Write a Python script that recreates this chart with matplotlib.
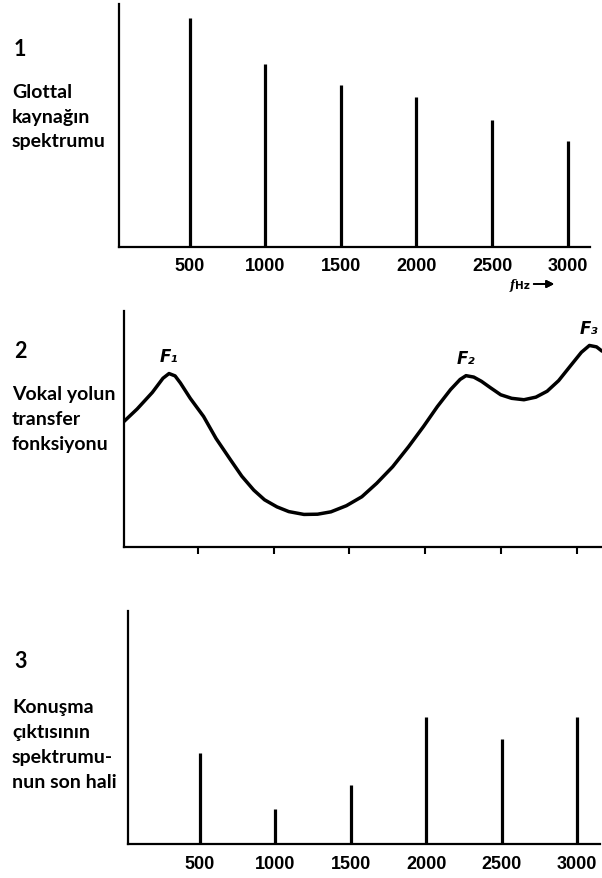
import matplotlib.pyplot as plt

W, H = 602, 879

# ---- data ----
freqs = [500, 1000, 1500, 2000, 2500, 3000]
tick_labels = ['500', '1000', '1500', '2000', '2500', '3000']

# 1: glottal source spectrum (relative amplitude, 0..1 of axis height)
source_amp = [0.943, 0.753, 0.668, 0.616, 0.524, 0.436]

# 2: vocal tract transfer function
tf_hz = [13, 100, 200, 270, 310, 350, 385, 450, 538, 620, 716, 790, 869, 940,
         1022, 1100, 1200, 1290, 1378, 1480, 1582, 1680, 1785, 1890, 1989, 2080,
         2167, 2230, 2269, 2320, 2371, 2430, 2498, 2570, 2651, 2730, 2804, 2880,
         2956, 3030, 3083, 3130, 3166]
tf_amp = [0.532, 0.585, 0.655, 0.715, 0.735, 0.725, 0.695, 0.630, 0.553, 0.460,
          0.369, 0.300, 0.241, 0.200, 0.170, 0.150, 0.138, 0.139, 0.149, 0.175,
          0.213, 0.270, 0.340, 0.425, 0.511, 0.595, 0.667, 0.710, 0.726, 0.720,
          0.702, 0.675, 0.645, 0.630, 0.624, 0.635, 0.660, 0.705, 0.766, 0.825,
          0.854, 0.848, 0.830]
formants = ['F₁', 'F₂', 'F₃']
formant_hz = [310, 2269, 3083]
formant_amp = [0.735, 0.726, 0.854]

# 3: output speech spectrum
output_amp = [0.39, 0.152, 0.253, 0.544, 0.452, 0.546]


def rect(l, t, r, b):
    return [l / W, 1 - b / H, (r - l) / W, (b - t) / H]


def style(ax, xlim):
    for s in ['top', 'right']:
        ax.spines[s].set_visible(False)
    for s in ['left', 'bottom']:
        ax.spines[s].set_linewidth(1.6)
        ax.spines[s].set_color('black')
    ax.set_xlim(*xlim)
    ax.set_ylim(0, 1)
    ax.set_yticks([])


fig = plt.figure(figsize=(W / 100, H / 100), dpi=100)
fig.patch.set_facecolor('white')

tick_font = dict(family='Liberation Sans', weight='bold', size=13)
side_font = dict(family='Lato', weight='bold', size=14)

# ----------------- panel 1 -----------------
ax1 = fig.add_axes(rect(119, 5, 590, 248))
style(ax1, (33, 3148))
ax1.vlines(freqs, 0, source_amp, color='black', linewidth=2.3)
ax1.set_xticks(freqs)
ax1.set_xticklabels(tick_labels, fontdict=tick_font)
ax1.tick_params(axis='x', length=0, pad=7)
fig.text(515 / W, 1 - 286 / H, 'f', fontsize=8.5, style='italic', weight='bold',
         family='DejaVu Serif', ha='right', va='center')
fig.text(515 / W, 1 - 286 / H, 'Hz', fontsize=7.5, weight='bold',
         ha='left', va='center')
fig.add_artist(plt.annotate('', xy=(557 / W, 1 - 285 / H), xytext=(531 / W, 1 - 285 / H),
                            xycoords='figure fraction',
                            arrowprops=dict(arrowstyle='-|>', color='black', lw=1.3,
                                            mutation_scale=11)))

# ----------------- panel 2 -----------------
ax2 = fig.add_axes(rect(124, 312, 602, 548))
style(ax2, (13, 3166))
ax2.plot(tf_hz, tf_amp, color='black', linewidth=2.5, solid_capstyle='round')
ax2.set_xticks(freqs)
ax2.set_xticklabels([])
ax2.tick_params(axis='x', direction='out', length=5, width=1.5)
for name, fx, fy in zip(formants, formant_hz, formant_amp):
    ax2.text(fx, fy + 0.035, name, ha='center', va='bottom', fontsize=12,
             style='italic', weight='bold', family='DejaVu Sans')

# ----------------- panel 3 -----------------
ax3 = fig.add_axes(rect(128, 612, 600, 845))
style(ax3, (23, 3153))
ax3.vlines(freqs, 0, output_amp, color='black', linewidth=2.3)
ax3.set_xticks(freqs)
ax3.set_xticklabels(tick_labels, fontdict=tick_font)
ax3.tick_params(axis='x', length=0, pad=8)

# ----------------- side captions -----------------
captions = [
    ('1', 50, [('Glottal', 92), ('kaynağın', 117), ('spektrumu', 142)]),
    ('2', 352, [('Vokal yolun', 395), ('transfer', 420), ('fonksiyonu', 445)]),
    ('3', 662, [('Konuşma', 708), ('çıktısının', 733), ('spektrumu-', 758),
                ('nun son hali', 783)]),
]
for num, ny, lines in captions:
    fig.text(14 / W, 1 - ny / H, num, ha='left', va='center',
             family='Lato', weight='bold', size=15.5)
    for txt, ly in lines:
        fig.text(12 / W, 1 - ly / H, txt, ha='left', va='center', **side_font)

fig.savefig('out.png', dpi=100, facecolor='white')
